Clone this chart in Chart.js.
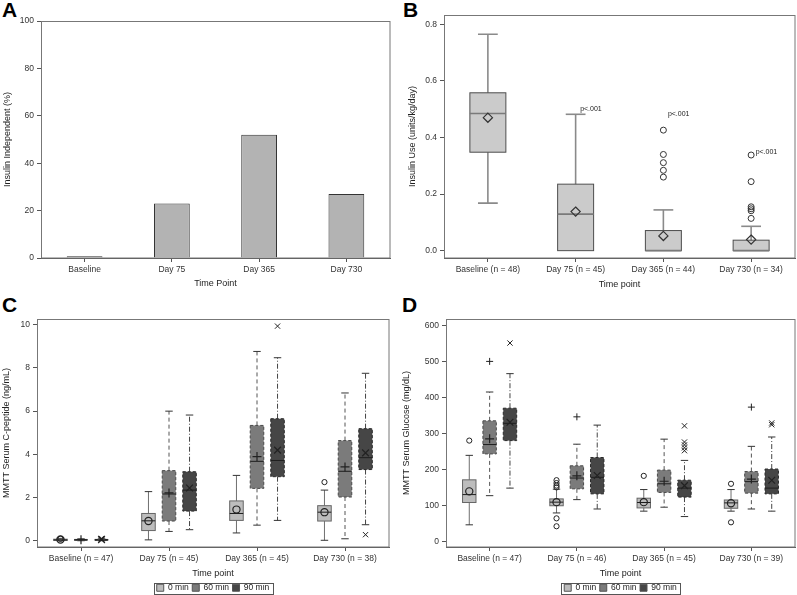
<!DOCTYPE html>
<html><head><meta charset="utf-8">
<script src="https://cdn.jsdelivr.net/npm/chart.js@4.4.1/dist/chart.umd.min.js"></script>
<style>
html,body{margin:0;padding:0;background:#fff;}
body{width:797px;height:595px;position:relative;overflow:hidden;font-family:'Liberation Sans',Arial,sans-serif;}
canvas{position:absolute;}
.letter{position:absolute;font-weight:bold;font-size:21px;line-height:21px;color:#000;}
</style></head>
<body>
<div class="letter" style="left:2px;top:-1px">A</div>
<div class="letter" style="left:403px;top:-1px">B</div>
<div class="letter" style="left:2px;top:294px">C</div>
<div class="letter" style="left:402px;top:294px">D</div>
<canvas id="cA" width="400" height="295" style="left:0;top:0"></canvas>
<canvas id="cB" width="397" height="295" style="left:400px;top:0"></canvas>
<canvas id="cC" width="400" height="312" style="left:0;top:290px"></canvas>
<canvas id="cD" width="397" height="312" style="left:400px;top:290px"></canvas>
<script>
// ---------------- DATA ----------------
// Panel A
const catA = ['Baseline', 'Day 75', 'Day 365', 'Day 730'];
const insulinIndependent = [0.7, 23, 52, 27];
const ticksA = [0, 20, 40, 60, 80, 100];

// Panel B
const catB = ['Baseline (n = 48)', 'Day 75 (n = 45)', 'Day 365 (n = 44)', 'Day 730 (n = 34)'];
const insulinLow = [0.168, 0, 0, 0];
const insulinQ1 = [0.348, 0, 0, 0];
const insulinMedian = [0.485, 0.129, 0, 0];
const insulinQ3 = [0.558, 0.235, 0.071, 0.037];
const insulinHigh = [0.765, 0.482, 0.144, 0.086];
const insulinMean = [0.47, 0.138, 0.052, 0.039];
const insulinOutliers = [[], [], [0.26, 0.284, 0.311, 0.34, 0.426], [0.114, 0.141, 0.148, 0.155, 0.244, 0.338]];
const pText = ['', 'p<.001', 'p<.001', 'p<.001'];
const pTextAt = [null, 0.50, 0.482, 0.35];
const ticksB = [0, 0.2, 0.4, 0.6, 0.8];

// Panels C & D series
const minutes = ['0 min', '60 min', '90 min'];

// Panel C: C-peptide (ng/mL), rows = 0, 60, 90 min
const catC = ['Baseline (n = 47)', 'Day 75 (n = 45)', 'Day 365 (n = 45)', 'Day 730 (n = 38)'];
const cpepLow = [[0.0, 0.05, 0.37, 0.03], [0.01, 0.44, 0.73, 0.1], [0.01, 0.52, 0.95, 0.75]];
const cpepQ1 = [[0.02, 0.48, 0.95, 0.92], [0.03, 0.92, 2.43, 2.03], [0.03, 1.38, 2.97, 3.3]];
const cpepMedian = [[0.05, 0.93, 1.27, 1.33], [0.05, 2.17, 3.68, 3.22], [0.05, 2.35, 3.72, 3.85]];
const cpepQ3 = [[0.08, 1.27, 1.85, 1.63], [0.07, 3.25, 5.34, 4.64], [0.07, 3.2, 5.65, 5.19]];
const cpepHigh = [[0.12, 2.28, 3.03, 2.35], [0.1, 6.0, 8.76, 6.84], [0.1, 5.82, 8.47, 7.75]];
const cpepMean = [[0.07, 0.92, 1.45, 1.33], [0.06, 2.22, 3.9, 3.42], [0.06, 2.45, 4.2, 4.07]];
const cpepOutliers = [[[0.1], [], [], [2.72]], [[], [], [], []], [[0.08, 0.12], [], [9.93], [0.29]]];
const ticksC = [0, 2, 4, 6, 8, 10];

// Panel D: glucose (mg/dL), rows = 0, 60, 90 min
const catD = ['Baseline (n = 47)', 'Day 75 (n = 46)', 'Day 365 (n = 45)', 'Day 730 (n = 39)'];
const gluLow = [[46, 79, 84, 84], [127, 116, 95, 90], [148, 90, 69, 84]];
const gluQ1 = [[108, 99, 93, 92], [243, 146, 136, 134], [280, 132, 123, 132]];
const gluMedian = [[130, 109, 108, 107], [269, 176, 160, 166], [328, 178, 148, 148]];
const gluQ3 = [[171, 118, 120, 115], [335, 210, 198, 194], [370, 233, 170, 201]];
const gluHigh = [[239, 145, 144, 144], [415, 270, 284, 264], [466, 323, 225, 290]];
const gluMean = [[139, 109, 109, 106], [285, 182, 167, 173], [331, 183, 155, 170]];
const gluOutliers = [[[280], [42, 64, 150, 155, 162, 170], [182], [53, 160]], [[500], [346], [], [373]], [[551], [], [252, 260, 268, 276, 321], [324, 329]]];
const ticksD = [0, 100, 200, 300, 400, 500, 600];

// ---------------- STYLE ----------------
Chart.defaults.font.family = "'Liberation Sans', Arial, sans-serif";
Chart.defaults.color = '#333';
Chart.defaults.animation = false;
const AXIS = '#555';
const GROUP_PCT = 0.7;
const seriesStyle = [
  {fill: '#bdbdbd', box: '#666', boxDash: [], wh: '#6f6f6f', whDash: [], marker: 'circle', meanR: 3.6, outR: 2.6},
  {fill: '#7b7b7b', box: '#4a4a4a', boxDash: [3, 2], wh: '#555', whDash: [4, 3], marker: 'cross', meanR: 4.5, outR: 3.5},
  {fill: '#464646', box: '#2a2a2a', boxDash: [3, 2], wh: '#444', whDash: [5, 2, 1, 2], marker: 'crossRot', meanR: 4.5, outR: 3.5}
];

function axisY(title, min, max, ticks, width, padTop, fmt) {
  return {
    type: 'linear', min, max, position: 'left',
    afterBuildTicks: s => { s.ticks = ticks.map(v => ({value: v})); },
    afterFit: s => { s.width = width; },
    ticks: {font: {size: 8.5}, color: '#333', padding: 3, callback: fmt || (v => String(v))},
    grid: {drawOnChartArea: false, drawTicks: true, tickLength: 4, color: AXIS},
    border: {color: AXIS},
    title: {display: true, text: title, font: {size: 9}, color: '#222', padding: {top: padTop, bottom: 0}}
  };
}
function axisX(title, height, padBottom) {
  return {
    type: 'category', offset: true,
    afterFit: s => { s.height = height; },
    ticks: {font: {size: 8.5}, color: '#333', padding: 3, maxRotation: 0, autoSkip: false},
    grid: {offset: false, drawOnChartArea: false, drawTicks: true, tickLength: 4, color: AXIS},
    border: {color: AXIS},
    title: {display: true, text: title, font: {size: 9}, color: '#222', padding: {top: 0, bottom: padBottom}}
  };
}

const framePlugin = {
  id: 'frame',
  afterDraw(chart) {
    const a = chart.chartArea, ctx = chart.ctx;
    ctx.save(); ctx.strokeStyle = '#777'; ctx.lineWidth = 1;
    ctx.strokeRect(Math.round(a.left) + 0.5, Math.round(a.top) + 0.5, Math.round(a.right - a.left) - 0.5, Math.round(a.bottom - a.top) - 0.5);
    ctx.restore();
  }
};

function drawMarker(ctx, style, x, y, r) {
  ctx.beginPath();
  if (style === 'circle') {
    ctx.arc(x, y, r, 0, Math.PI * 2);
  } else if (style === 'cross') {
    ctx.moveTo(x - r, y); ctx.lineTo(x + r, y); ctx.moveTo(x, y - r); ctx.lineTo(x, y + r);
  } else if (style === 'crossRot') {
    const d = r * 0.75;
    ctx.moveTo(x - d, y - d); ctx.lineTo(x + d, y + d); ctx.moveTo(x + d, y - d); ctx.lineTo(x - d, y + d);
  } else if (style === 'diamond') {
    ctx.moveTo(x, y - r); ctx.lineTo(x + r, y); ctx.lineTo(x, y + r); ctx.lineTo(x - r, y); ctx.closePath();
  }
  ctx.stroke();
}

function makeBoxPlugin(stats) {
  return {
    id: 'boxDeco',
    afterDatasetDraw(chart, args) {
      const st = stats[args.index];
      if (!st) return;
      const y = chart.scales.y, ctx = chart.ctx;
      const p = v => y.getPixelForValue(v);
      ctx.save();
      args.meta.data.forEach((el, i) => {
        const x = el.x, w = el.width, cap = w * st.capPct / 2;
        const q1 = p(st.q1[i]), q3 = p(st.q3[i]), md = p(st.med[i]), lo = p(st.lo[i]), hi = p(st.hi[i]);
        // whiskers
        ctx.strokeStyle = st.wh; ctx.lineWidth = st.whW; ctx.setLineDash(st.whDash);
        ctx.beginPath();
        if (st.hi[i] > st.q3[i]) { ctx.moveTo(x, q3); ctx.lineTo(x, hi); }
        if (st.lo[i] < st.q1[i]) { ctx.moveTo(x, q1); ctx.lineTo(x, lo); }
        ctx.stroke();
        ctx.setLineDash([]);
        ctx.lineWidth = st.capW; ctx.strokeStyle = st.capC;
        ctx.beginPath();
        if (st.hi[i] > st.q3[i]) { ctx.moveTo(x - cap, hi); ctx.lineTo(x + cap, hi); }
        if (st.lo[i] < st.q1[i]) { ctx.moveTo(x - cap, lo); ctx.lineTo(x + cap, lo); }
        ctx.stroke();
        // box outline
        ctx.strokeStyle = st.box; ctx.lineWidth = 1; ctx.setLineDash(st.boxDash);
        ctx.strokeRect(x - w / 2, q3, w, q1 - q3);
        ctx.setLineDash([]);
        // median
        ctx.strokeStyle = st.medC; ctx.lineWidth = st.medW;
        ctx.beginPath(); ctx.moveTo(x - w / 2, md); ctx.lineTo(x + w / 2, md); ctx.stroke();
        // mean marker
        ctx.strokeStyle = st.markC; ctx.lineWidth = st.meanW;
        drawMarker(ctx, st.marker, x, p(st.mean[i]), st.meanR);
        // outliers
        ctx.lineWidth = st.outW;
        st.out[i].forEach(v => drawMarker(ctx, st.marker, x, p(v), st.outR));
      });
      ctx.restore();
    }
  };
}

const legendBoxPlugin = {
  id: 'legendBox',
  afterDraw(chart) {
    const hb = chart.legend && chart.legend.legendHitBoxes;
    if (!hb || !hb.length) return;
    const l = Math.min(...hb.map(h => h.left)) - 3;
    const r = Math.max(...hb.map(h => h.left + h.width)) + 3;
    const t = hb[0].top - 1, b = hb[0].top + hb[0].height + 1;
    const ctx = chart.ctx;
    ctx.save(); ctx.strokeStyle = '#555'; ctx.lineWidth = 1;
    ctx.strokeRect(Math.round(l) + 0.5, Math.round(t) + 0.5, Math.round(r - l), Math.round(b - t));
    ctx.restore();
  }
};

// ---------------- PANEL A ----------------
new Chart(document.getElementById('cA'), {
  type: 'bar',
  data: {labels: catA, datasets: [{data: insulinIndependent, backgroundColor: '#b3b3b3', borderColor: '#333', borderWidth: 1, barPercentage: 0.41, categoryPercentage: 1}]},
  options: {
    responsive: false, devicePixelRatio: 1,
    layout: {padding: {top: 21, right: 10, left: 0, bottom: 0}},
    plugins: {legend: {display: false}, tooltip: {enabled: false}},
    scales: {x: axisX('Time Point', 37, 5.6), y: axisY('Insulin Independent (%)', 0, 100, ticksA, 41, 2)}
  },
  plugins: [framePlugin]
});

// ---------------- PANEL B ----------------
(function () {
  const stats = [{q1: insulinQ1, med: insulinMedian, q3: insulinQ3, lo: insulinLow, hi: insulinHigh, mean: insulinMean, out: insulinOutliers,
    wh: '#8a8a8a', whW: 1.6, whDash: [], capW: 1.6, capC: '#8a8a8a', capPct: 0.55, box: '#4d4d4d', boxDash: [], medC: '#7a7a7a', medW: 1.6,
    marker: 'diamond', markC: '#333', meanR: 4.6, meanW: 1.2, outMarker: 'circle'}];
  stats[0].outR = 3; stats[0].outW = 1;
  const pLabels = {
    id: 'pLabels',
    afterDatasetsDraw(chart) {
      const ctx = chart.ctx, x = chart.scales.x, y = chart.scales.y;
      ctx.save(); ctx.font = "7px 'Liberation Sans', Arial, sans-serif"; ctx.fillStyle = '#222';
      ctx.textAlign = 'left'; ctx.textBaseline = 'middle';
      pText.forEach((t, i) => { if (t) ctx.fillText(t, x.getPixelForValue(i) + 4.5, y.getPixelForValue(pTextAt[i])); });
      ctx.restore();
    }
  };
  // B uses diamonds for means and circles for outliers
  const plug = makeBoxPlugin(stats);
  const base = plug.afterDatasetDraw;
  plug.afterDatasetDraw = function (chart, args) {
    const saved = stats[0].out;
    stats[0].out = saved.map(() => []);
    base(chart, args);
    stats[0].out = saved;
    const y = chart.scales.y, ctx = chart.ctx;
    ctx.save(); ctx.strokeStyle = '#333'; ctx.lineWidth = 1;
    args.meta.data.forEach((el, i) => saved[i].forEach(v => drawMarker(ctx, 'circle', el.x, y.getPixelForValue(v), 3)));
    ctx.restore();
  };
  new Chart(document.getElementById('cB'), {
    type: 'bar',
    data: {labels: catB, datasets: [
      {data: insulinQ1.map((v, i) => [v, insulinQ3[i]]), backgroundColor: '#cbcbcb', borderWidth: 0, barPercentage: 0.41, categoryPercentage: 1}
    ]},
    options: {
      responsive: false, devicePixelRatio: 1,
      layout: {padding: {top: 15, right: 2, left: 0, bottom: 0}},
      plugins: {legend: {display: false}, tooltip: {enabled: false}},
      scales: {x: axisX('Time point', 37, 4.6),
        y: axisY('Insulin Use (units/kg/day)', -0.026, 0.833, ticksB, 44, 7.6, v => v.toFixed(1))}
    },
    plugins: [plug, pLabels, framePlugin]
  });
})();

// ---------------- PANELS C & D ----------------
function groupedBoxChart(id, labels, low, q1, med, q3, high, mean, outl, yTitle, yMin, yMax, yTicks, yWidth, padRight) {
  const datasets = [], stats = [];
  minutes.forEach((m, s) => {
    const sty = seriesStyle[s];
    datasets.push({label: m, data: q1[s].map((v, i) => [v, q3[s][i]]), backgroundColor: sty.fill, borderColor: '#555', borderWidth: 0, barPercentage: 0.66, categoryPercentage: GROUP_PCT});
    stats[s] = {q1: q1[s], med: med[s], q3: q3[s], lo: low[s], hi: high[s], mean: mean[s], out: outl[s],
      wh: sty.wh, whW: 1, whDash: sty.whDash, capW: 1, capC: '#333', capPct: 0.55, box: sty.box, boxDash: sty.boxDash,
      medC: '#1e1e1e', medW: 1, marker: sty.marker, markC: '#222', meanR: sty.meanR, meanW: 1.2, outR: sty.outR, outW: 1};
  });
  new Chart(document.getElementById(id), {
    type: 'bar',
    data: {labels, datasets},
    options: {
      responsive: false, devicePixelRatio: 1,
      layout: {padding: {top: 29, right: padRight, left: 0, bottom: 0}},
      plugins: {
        tooltip: {enabled: false},
        legend: {display: true, position: 'bottom', fullSize: false,
          labels: {boxWidth: 7, boxHeight: 7, padding: 3.5, color: '#222', font: {size: 8.5},
            generateLabels: chart => Chart.defaults.plugins.legend.labels.generateLabels(chart).map(it => Object.assign(it, {strokeStyle: '#555', lineWidth: 1}))}}
      },
      scales: {x: axisX('Time point', 33, 1), y: axisY(yTitle, yMin, yMax, yTicks, yWidth, 1.6)}
    },
    plugins: [makeBoxPlugin(stats), framePlugin, legendBoxPlugin]
  });
}
groupedBoxChart('cC', catC, cpepLow, cpepQ1, cpepMedian, cpepQ3, cpepHigh, cpepMean, cpepOutliers,
  'MMTT Serum C-peptide (ng/mL)', -0.28, 10.26, ticksC, 37, 11);
groupedBoxChart('cD', catD, gluLow, gluQ1, gluMedian, gluQ3, gluHigh, gluMean, gluOutliers,
  'MMTT Serum Glucose (mg/dL)', -15.6, 617.8, ticksD, 46, 2);
</script>
</body></html>
